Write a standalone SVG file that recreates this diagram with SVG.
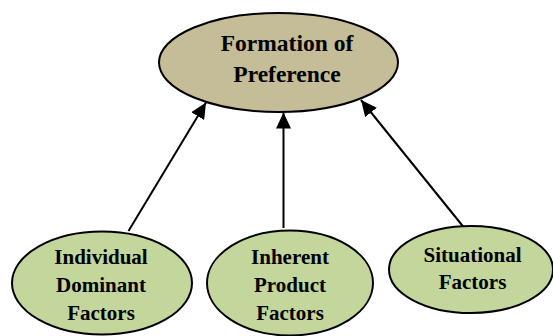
<svg xmlns="http://www.w3.org/2000/svg" width="553" height="336" viewBox="0 0 553 336">
<style>
.top{fill:#C4BD97;stroke:#000;stroke-width:2}
.leaf{fill:#C3D69B;stroke:#000;stroke-width:2}
text{font-family:"Liberation Serif","Times New Roman",serif;font-weight:bold;fill:#000;text-anchor:middle}
.t1{font-size:23.5px}
.t2{font-size:21px}
.conn{stroke:#000;stroke-width:2;fill:none;marker-end:url(#ah)}
</style>
<defs>
<marker id="ah" markerUnits="userSpaceOnUse" markerWidth="16" markerHeight="15" refX="16" refY="7.5" orient="auto">
<path d="M0,0 L16,7.5 L0,15 Z" fill="#000"/>
</marker>
</defs>
<rect width="553" height="336" fill="#fff"/>
<g id="connectors">
<path class="conn" d="M128.5,231 L206,102.5"/>
<path class="conn" d="M283.5,228 L283.5,112.5"/>
<path class="conn" d="M463.5,227 L361,100"/>
</g>
<g id="formation">
<ellipse class="top" cx="278.5" cy="62.5" rx="119.5" ry="49.5"/>
<text class="t1" x="287" y="51">Formation of</text>
<text class="t1" x="287" y="82">Preference</text>
</g>
<g id="individual">
<ellipse class="leaf" cx="102" cy="283" rx="90" ry="51.5"/>
<text class="t2" x="101" y="264">Individual</text>
<text class="t2" x="101" y="292">Dominant</text>
<text class="t2" x="101" y="320">Factors</text>
</g>
<g id="inherent">
<ellipse class="leaf" cx="290" cy="283" rx="83" ry="52.5"/>
<text class="t2" x="290" y="264">Inherent</text>
<text class="t2" x="290" y="292">Product</text>
<text class="t2" x="290" y="320">Factors</text>
</g>
<g id="situational">
<ellipse class="leaf" cx="471" cy="269.5" rx="82" ry="43.5"/>
<text class="t2" x="472.5" y="262">Situational</text>
<text class="t2" x="472.5" y="289">Factors</text>
</g>
</svg>
